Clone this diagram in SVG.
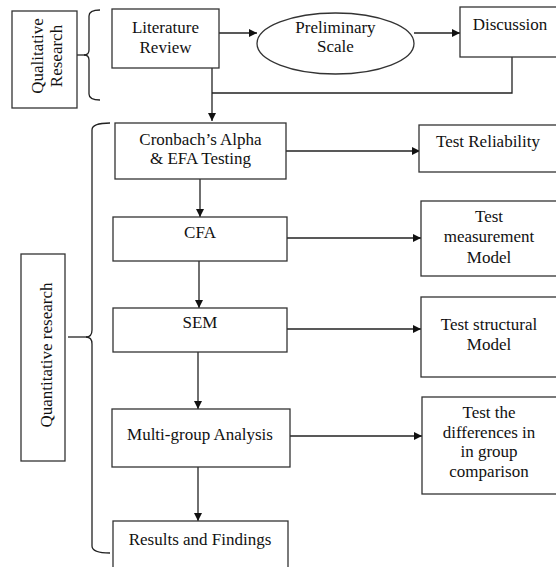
<svg xmlns="http://www.w3.org/2000/svg" width="556" height="567" viewBox="0 0 556 567">
<defs>
<marker id="ah" viewBox="0 0 10 10" refX="10" refY="5" markerWidth="8" markerHeight="8" markerUnits="userSpaceOnUse" orient="auto">
<path d="M0,0 L10,5 L0,10 z" fill="#111"/>
</marker>
<style>
.box{fill:#fff;stroke:#333;stroke-width:1.3}
.ln{fill:none;stroke:#222;stroke-width:1.3}
.ar{fill:none;stroke:#222;stroke-width:1.3;marker-end:url(#ah)}
text{font-family:'Liberation Serif','DejaVu Serif','Times New Roman',serif;font-size:17px;fill:#111;text-anchor:middle}
</style>
</defs>
<rect width="556" height="567" fill="#fff"/>
<g id="connectors">
<path class="ar" d="M219,33 H257"/>
<path class="ar" d="M414,33 H460"/>
<path class="ln" d="M512,57 V93 H212"/>
<path class="ar" d="M212,68 V121"/>
<path class="ar" d="M200,179 V217"/>
<path class="ar" d="M199,261 V308"/>
<path class="ar" d="M198,352 V409"/>
<path class="ar" d="M198,467 V521"/>
<path class="ar" d="M286,151 H420"/>
<path class="ar" d="M287,238 H421"/>
<path class="ar" d="M287,329 H421"/>
<path class="ar" d="M290,436 H422"/>
<path class="ln" d="M100,10 Q89,10 89,16 V50 Q89,55 84,55 Q89,55 89,60 V94 Q89,100 100,100"/>
<path class="ln" d="M77,55 H85"/>
<path class="ln" d="M110,123 Q92,123 92,130 V330 Q92,337 86,337 Q92,337 92,344 V546 Q92,553 110,553"/>
<path class="ln" d="M68,337 H87"/>
</g>
<g font-family="Liberation Serif, DejaVu Serif, serif">
<g id="qualitative">
<rect class="box" x="12" y="11" width="65" height="97"/>
<text transform="translate(43,56) rotate(-90)">Qualitative</text>
<text transform="translate(62,56) rotate(-90)">Research</text>
</g>
<g id="quantitative">
<rect class="box" x="21" y="254" width="44" height="207"/>
<text transform="translate(52,355) rotate(-90)">Quantitative research</text>
</g>
<g id="literature">
<rect class="box" x="112" y="9" width="107" height="59"/>
<text x="165.5" y="33">Literature</text>
<text x="165.5" y="53">Review</text>
</g>
<g id="preliminary">
<ellipse class="box" cx="335.5" cy="43.5" rx="78.5" ry="30.5"/>
<text x="335.5" y="33">Preliminary</text>
<text x="335.5" y="52">Scale</text>
</g>
<g id="discussion">
<rect class="box" x="460" y="7" width="100" height="50"/>
<text x="510" y="30">Discussion</text>
</g>
<g id="cronbach">
<rect class="box" x="115" y="123" width="171" height="56"/>
<text x="200.5" y="145">Cronbach’s Alpha</text>
<text x="200.5" y="164">&amp; EFA Testing</text>
</g>
<g id="cfa">
<rect class="box" x="113" y="217" width="174" height="44"/>
<text x="200" y="238">CFA</text>
</g>
<g id="sem">
<rect class="box" x="113" y="308" width="174" height="44"/>
<text x="200" y="328">SEM</text>
</g>
<g id="multigroup">
<rect class="box" x="112" y="409" width="178" height="58"/>
<text x="200" y="440">Multi-group Analysis</text>
</g>
<g id="results">
<rect class="box" x="113" y="521" width="175" height="50"/>
<text x="200" y="545">Results and Findings</text>
</g>
<g id="reliability">
<rect class="box" x="419" y="125" width="138" height="47"/>
<text x="488" y="147">Test Reliability</text>
</g>
<g id="measurement">
<rect class="box" x="421" y="201" width="136" height="75"/>
<text x="489" y="222">Test</text>
<text x="489" y="242">measurement</text>
<text x="489" y="263">Model</text>
</g>
<g id="structural">
<rect class="box" x="421" y="297" width="136" height="80"/>
<text x="489" y="330">Test structural</text>
<text x="489" y="350">Model</text>
</g>
<g id="differences">
<rect class="box" x="422" y="397" width="135" height="97"/>
<text x="489" y="418">Test the</text>
<text x="489" y="438">differences in</text>
<text x="489" y="457">in group</text>
<text x="489" y="477">comparison</text>
</g>
</g>
</svg>
